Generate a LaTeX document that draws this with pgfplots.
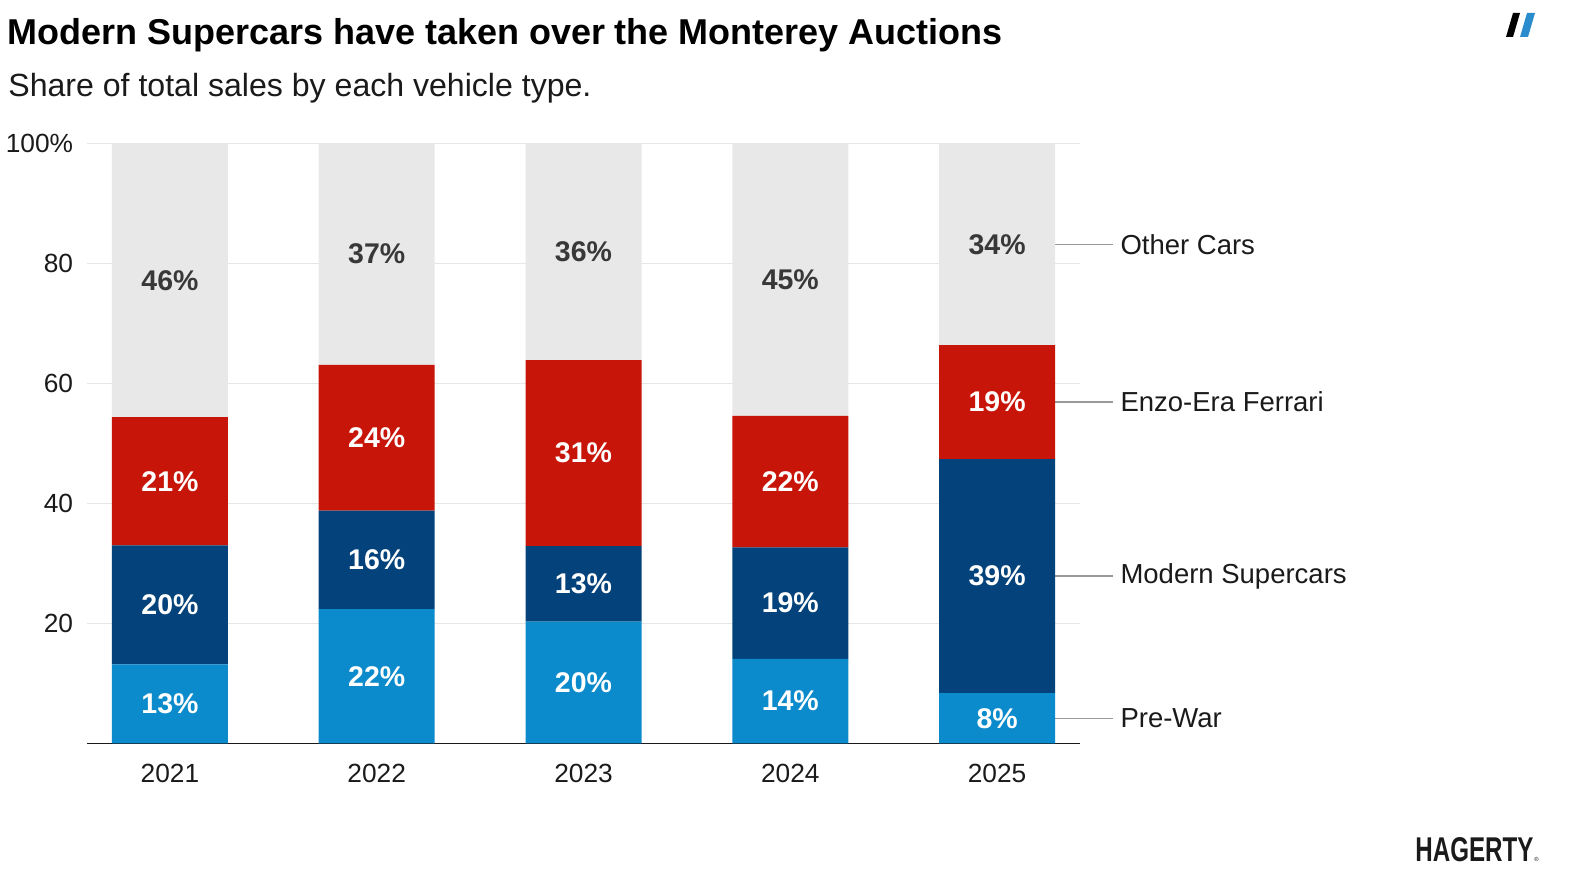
\documentclass[border=0pt]{standalone}
\usepackage{pgfplots}
\pgfplotsset{compat=1.18}
\usepackage{pgfplotstable}
\usepackage{fontspec}
\setmainfont{Liberation Sans}
\definecolor{prewar}{HTML}{0B8BCB}
\definecolor{modern}{HTML}{03427A}
\definecolor{enzo}{HTML}{C81509}
\definecolor{other}{HTML}{E8E8E8}
\definecolor{gridc}{HTML}{E6E6E6}
\definecolor{txt}{HTML}{1A1A1A}
\definecolor{lead}{HTML}{9A9A9A}
\definecolor{logoblue}{HTML}{2A8CCC}

\pgfplotstableread{
x v lab
0 13.2 13
1 22.4 22
2 20.3 20
3 14.1 14
4 8.4 8
}\prewar
\pgfplotstableread{
x v lab
0 19.8 20
1 16.4 16
2 12.6 13
3 18.6 19
4 39.0 39
}\modern
\pgfplotstableread{
x v lab
0 21.4 21
1 24.3 24
2 31.0 31
3 21.9 22
4 19.0 19
}\enzo
\pgfplotstableread{
x v lab
0 45.6 46
1 36.9 37
2 36.1 36
3 45.4 45
4 33.6 34
}\other

\begin{document}
\begin{tikzpicture}
\node[anchor=base west, inner sep=0pt, font=\fontsize{18.05}{20}\selectfont\bfseries, text=black] at (3.5bp,422.5bp) {Modern Supercars have taken over the Monterey Auctions};
\node[anchor=base west, inner sep=0pt, font=\fontsize{16.1}{19}\selectfont, text=txt] at (4bp,396.5bp) {Share of total sales by each vehicle type.};
% top-right logo
\fill[black] (753bp,426.5bp) -- (756.5bp,426.5bp) -- (760bp,438.5bp) -- (756.5bp,438.5bp) -- cycle;
\fill[logoblue] (760bp,426.5bp) -- (764bp,426.5bp) -- (767.5bp,438.5bp) -- (763.5bp,438.5bp) -- cycle;
% bottom-right logo
\node[anchor=south west, inner sep=0pt, text=txt] at (707.5bp,14bp) {\resizebox{59bp}{12bp}{\bfseries HAGERTY}};
\node[anchor=south west, inner sep=0pt, text=txt, font=\fontsize{3}{3}\selectfont] at (767bp,14bp) {\textregistered};
\begin{axis}[
  at={(43.5bp,73.25bp)}, anchor=south west,
  scale only axis, width=496.5bp, height=300bp,
  ybar stacked, bar width=58bp,
  xmin=-0.401, xmax=4.401, ymin=0, ymax=100,
  xtick={0,1,2,3,4}, xticklabels={2021,2022,2023,2024,2025},
  ytick={20,40,60,80,100}, yticklabels={20,40,60,80,100\%},
  major tick length=0pt,
  axis x line*=bottom, axis y line*=left,
  x axis line style={draw=txt, line width=0.8pt, -},
  y axis line style={draw=none},
  ymajorgrids, grid style={draw=gridc, line width=0.7pt},
  /pgf/number format/assume math mode=true,
  ticklabel style={font=\fontsize{13.2}{15}\selectfont, text=txt},
  xticklabel style={anchor=north, inner sep=0pt, yshift=-10bp},
  yticklabel style={anchor=east, inner sep=0pt, xshift=-6.75bp},
  clip=false,
  point meta=explicit symbolic,
  nodes near coords={\pgfplotspointmeta\%},
  every node near coord/.append style={anchor=center, font=\fontsize{14.3}{16}\selectfont\bfseries},
]
\addplot[fill=prewar, draw=none, nodes near coords style={text=white}] table[x=x, y=v, meta=lab] {\prewar};
\addplot[fill=modern, draw=none, nodes near coords style={text=white}] table[x=x, y=v, meta=lab] {\modern};
\addplot[fill=enzo, draw=none, nodes near coords style={text=white}] table[x=x, y=v, meta=lab] {\enzo};
\addplot[fill=other, draw=none, nodes near coords style={text=black!78}] table[x=x, y=v, meta=lab] {\other};
% right-hand labels
\draw[lead, line width=0.7pt] (axis cs:4.2805,83.2) -- (axis cs:4.561,83.2);
\draw[lead, line width=0.7pt] (axis cs:4.2805,56.9) -- (axis cs:4.561,56.9);
\draw[lead, line width=0.7pt] (axis cs:4.2805,27.9) -- (axis cs:4.561,27.9);
\draw[lead, line width=0.7pt] (axis cs:4.2805,4.2) -- (axis cs:4.561,4.2);
\node[anchor=west, inner sep=0pt, font=\fontsize{13.8}{16}\selectfont, text=txt] at (axis cs:4.595,83.2) {Other Cars};
\node[anchor=west, inner sep=0pt, font=\fontsize{13.8}{16}\selectfont, text=txt] at (axis cs:4.595,56.9) {Enzo-Era Ferrari};
\node[anchor=west, inner sep=0pt, font=\fontsize{13.8}{16}\selectfont, text=txt] at (axis cs:4.595,27.9) {Modern Supercars};
\node[anchor=west, inner sep=0pt, font=\fontsize{13.8}{16}\selectfont, text=txt] at (axis cs:4.595,4.2) {Pre-War};
\end{axis}
\pgfresetboundingbox
\path[use as bounding box] (0,0) rectangle (788bp,445bp);
\end{tikzpicture}
\end{document}
